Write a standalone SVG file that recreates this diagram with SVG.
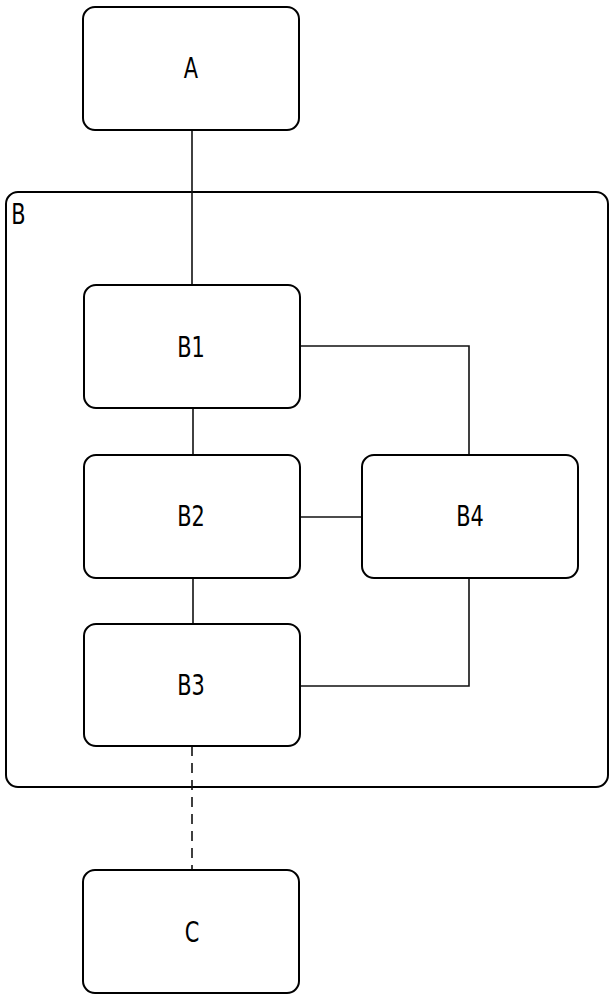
<svg xmlns="http://www.w3.org/2000/svg" width="616" height="1000" viewBox="0 0 616 1000">
<style>
.box{fill:#fff;stroke:#000;stroke-width:2}
.ct{fill:none;stroke:#000;stroke-width:2}
.ln{fill:none;stroke:#111;stroke-width:1.6}
.t{font-family:"DejaVu Sans Condensed","DejaVu Sans",sans-serif;font-size:29px;text-anchor:middle;fill:#000}
</style>
<rect width="616" height="1000" fill="#fff"/>
<g id="B"><rect class="ct" x="6" y="192" width="602" height="595" rx="12"/><text class="t" transform="translate(18.5,224) scale(0.8,1)">B</text></g>
<g id="connectors">
<path class="ln" d="M192 130V285"/>
<path class="ln" d="M193 408V455"/>
<path class="ln" d="M193 578V624"/>
<path class="ln" d="M300 346H469V455"/>
<path class="ln" d="M300 517H362"/>
<path class="ln" d="M469 578V686H300"/>
<path class="ln" d="M192 746V870" stroke-dasharray="10,7"/>
</g>
<g id="A"><rect class="box" x="83" y="7" width="216" height="123" rx="12"/><text class="t" transform="translate(191,78) scale(0.8,1)">A</text></g>
<g id="B1"><rect class="box" x="84" y="285" width="216" height="123" rx="12"/><text class="t" transform="translate(191,357) scale(0.8,1)">B1</text></g>
<g id="B2"><rect class="box" x="84" y="455" width="216" height="123" rx="12"/><text class="t" transform="translate(191,526) scale(0.8,1)">B2</text></g>
<g id="B3"><rect class="box" x="84" y="624" width="216" height="122" rx="12"/><text class="t" transform="translate(191,695) scale(0.8,1)">B3</text></g>
<g id="B4"><rect class="box" x="362" y="455" width="216" height="123" rx="12"/><text class="t" transform="translate(470,526) scale(0.8,1)">B4</text></g>
<g id="C"><rect class="box" x="83" y="870" width="216" height="123" rx="12"/><text class="t" transform="translate(192,942) scale(0.8,1)">C</text></g>
</svg>
